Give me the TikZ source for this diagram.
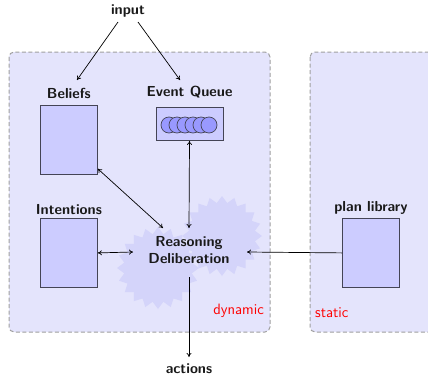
\documentclass[tikz,border=0pt]{standalone}
\usepackage{fontspec}
\usepackage{tikz}
\usetikzlibrary{shapes.geometric,arrows.meta}
\definecolor{zonefill}{HTML}{E4E4FC}
\definecolor{burstfill}{HTML}{D4D4FA}
\definecolor{boxfill}{HTML}{CCCCFF}
\definecolor{ballfill}{HTML}{9999FF}
\definecolor{boxline}{HTML}{444455}
\tikzset{
  zone/.style={draw=gray!75, dash pattern=on 4pt off 2.5pt, line width=1pt, fill=zonefill, rounded corners=5pt},
  store/.style={draw=boxline, fill=boxfill, line width=0.8pt, minimum width=57pt, minimum height=69pt, inner sep=0pt},
  lbl/.style={font=\sffamily\bfseries\fontsize{14.5}{17}\selectfont, text=black!90, inner sep=1pt},
  tag/.style={font=\sffamily\fontsize{15}{17}\selectfont, text=red, inner sep=0pt},
  burst/.style={star, star points=20, star point ratio=1.2, fill=burstfill, draw=none, minimum size=82pt, inner sep=0pt},
  conn/.style={line width=0.7pt, -{To[length=4pt,width=5pt]}},
  both/.style={line width=0.7pt, {To[length=4pt,width=5pt]}-{To[length=4pt,width=5pt]}},
}
\begin{document}
\begin{tikzpicture}[x=1pt,y=-1pt]
  \useasboundingbox (0,0) rectangle (428,378);
  % zones
  \path[zone] (9,52) rectangle (270,332);
  \path[zone] (310,52) rectangle (440,332);
  \node[tag, anchor=south east] (dyn) at (264,318) {dynamic};
  \node[tag, anchor=south west] (stat) at (315,318) {static};
  % reasoning bursts
  \node[burst] (b1) at (158,268) {};
  \node[burst, minimum size=80pt] (b2) at (222,236) {};
  % stores
  \node[store, anchor=north west] (bel) at (40,105) {};
  \node[lbl, anchor=south] at (bel.north) [yshift=5pt] {Beliefs};
  \node[store, anchor=north west] (int) at (40,218) {};
  \node[lbl, anchor=south] at (int.north) [yshift=2pt] {Intentions};
  \node[store, anchor=north west] (plan) at (342,218) {};
  \node[lbl, anchor=south] at (plan.north) [yshift=2pt] {plan library};
  % event queue
  \node[draw=boxline, fill=boxfill, line width=0.8pt, minimum width=67pt, minimum height=33pt, inner sep=0pt] (eq) at (189.5,124) {};
  \node[lbl, anchor=south] at (eq.north) [yshift=8pt] {Event Queue};
  \foreach \i in {0,...,5}
    \draw[fill=ballfill, draw=boxline, line width=0.7pt] (169+\i*8,125) circle (8pt);
  % texts
  \node[lbl] (in) at (128,11) {input};
  \node[lbl, align=center] (rd) at (189,250) {Reasoning\\Deliberation};
  \node[lbl] (act) at (189,369) {actions};
  % connectors
  \coordinate (inL) at (118,22);
  \coordinate (inR) at (138,22);
  \coordinate (belT) at (77,80);
  \coordinate (eqT) at (180,80);
  \draw[conn] (inL) -- (belT);
  \draw[conn] (inR) -- (eqT);
  \coordinate (rdNW) at (163,228);
  \draw[both] (bel.south east) ++(0,-6) -- (rdNW);
  \coordinate (rdN) at (189,228);
  \draw[both] (eq.south) -- (rdN);
  \coordinate (rdW) at (133,252);
  \draw[both] (int.east) -- (rdW);
  \coordinate (rdE) at (247,252);
  \draw[conn] (plan.west) -- (rdE);
  \coordinate (rdS) at (189,277);
  \coordinate (actN) at (189,357);
  \draw[conn] (rdS) -- (actN);
\end{tikzpicture}
\end{document}
